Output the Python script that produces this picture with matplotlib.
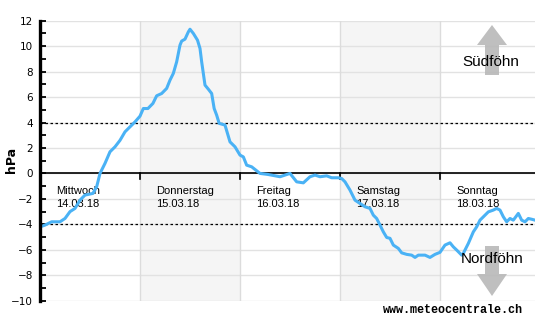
import matplotlib
matplotlib.use("Agg")
import matplotlib.pyplot as plt
from matplotlib.patches import Polygon
from matplotlib.ticker import MultipleLocator

# ---- data (hours since Wed 14.03.18 00:00, pressure difference hPa) ----
hours = [0, 1.2, 2.8, 4.8, 6, 7.2, 8.4, 9.6, 10.8, 12.7, 13.6, 14.4, 15.6, 16.8, 18,
         19.2, 20.4, 21.6, 22.8, 24, 24.8, 25.9, 27.1, 28, 29.2, 30.4, 31.2, 32, 32.8,
         33.6, 34, 34.8, 35.6, 36, 36.8, 37.8, 38.4, 38.8, 39.6, 40.4, 41.2, 41.8, 42.4,
         43, 44.4, 45.6, 46.8, 48, 48.8, 49.6, 50.8, 52.8, 54.7, 57.6, 60, 61.6, 63.2,
         64.8, 66, 67.2, 68.8, 70, 71.6, 72.4, 73.2, 74.4, 75.6, 76.8, 78, 79.2, 80,
         80.8, 81.6, 82.4, 83.2, 84, 84.8, 86, 86.8, 88, 89.2, 90, 90.8, 92.4, 93.6,
         94.8, 96, 97.2, 98.4, 99.2, 100, 101.2, 101.6, 102.8, 104, 104.8, 105.6, 106.4,
         107.6, 108.8, 109.6, 110.4, 111.2, 112, 112.8, 113.6, 114.8, 115.6, 116.4,
         117.2, 118, 118.8]
values = [-4.2, -4.06, -3.8, -3.8, -3.54, -3.0, -2.75, -2.1, -1.7, -1.57, -1.05, 0.0,
          0.79, 1.7, 2.09, 2.6, 3.27, 3.66, 4.05, 4.5, 5.1, 5.1, 5.5, 6.1, 6.28, 6.68,
          7.33, 7.86, 8.77, 10.08, 10.4, 10.55, 11.12, 11.33, 11.0, 10.47, 9.82, 8.77,
          6.94, 6.62, 6.28, 5.1, 4.58, 3.93, 3.8, 2.48, 2.09, 1.44, 1.3, 0.65, 0.52, 0.0,
          -0.08, -0.26, 0.0, -0.66, -0.74, -0.26, -0.13, -0.26, -0.19, -0.34, -0.34,
          -0.4, -0.66, -1.31, -2.1, -2.36, -2.62, -2.75, -3.28, -3.54, -4.06, -4.59,
          -5.03, -5.1, -5.63, -5.89, -6.24, -6.36, -6.42, -6.6, -6.42, -6.42, -6.6,
          -6.36, -6.2, -5.63, -5.45, -5.77, -6.02, -6.42, -6.28, -5.5, -4.59, -4.2,
          -3.67, -3.41, -3.02, -2.88, -2.75, -2.88, -3.41, -3.8, -3.54, -3.67, -3.14,
          -3.67, -3.8, -3.54, -3.6, -3.67]

day_names = ["Mittwoch", "Donnerstag", "Freitag", "Samstag", "Sonntag"]
day_dates = ["14.03.18", "15.03.18", "16.03.18", "17.03.18", "18.03.18"]
day_starts = [0, 24, 48, 72, 96]
shaded_days = [1, 3]
threshold = 4
x_end = 118.8
y_min, y_max = -10, 12

W, H = 554, 320
fig = plt.figure(figsize=(W / 100, H / 100), dpi=100)
ax = fig.add_axes([40 / W, 1 - 300.7 / H, (535 - 40) / W, (300.7 - 20.7) / H])

ax.set_xlim(0, x_end)
ax.set_ylim(y_min, y_max)

# shaded days
for i in shaded_days:
    ax.axvspan(day_starts[i], day_starts[i] + 24, color="#f5f5f5", zorder=0, lw=0)
# grid
for y in range(y_min, y_max + 1, 2):
    ax.axhline(y, color="#e2e2e2", lw=1, zorder=1)
for d in day_starts[1:]:
    ax.axvline(d, color="#dcdcdc", lw=1, zorder=1)

# thresholds
ax.axhline(threshold, color="black", lw=0.9, ls=(0, (2, 2)), zorder=2)
ax.axhline(-threshold, color="black", lw=0.9, ls=(0, (2, 2)), zorder=2)
# zero line
ax.axhline(0, color="black", lw=1.2, zorder=2)
for d in day_starts[1:]:
    ax.plot([d, d], [0, -0.4], color="black", lw=1.2, zorder=2)

# day labels
for d, n, t in zip(day_starts, day_names, day_dates):
    ax.text(d + 16 * 0.24, -1.35, n, fontsize=8, family="Liberation Sans",
            ha="left", va="center", zorder=4)
    ax.text(d + 16 * 0.24, -2.4, t, fontsize=8, family="Liberation Sans",
            ha="left", va="center", zorder=4)

# data line
ax.plot(hours, values, color="#4ab2f5", lw=2.2, zorder=5, solid_joinstyle="round")

# axes styling
for s in ["top", "right", "bottom"]:
    ax.spines[s].set_visible(False)
ax.spines["left"].set_linewidth(2.4)
ax.spines["left"].set_zorder(6)
ax.set_xticks([])
ax.yaxis.set_major_locator(MultipleLocator(2))
ax.yaxis.set_minor_locator(MultipleLocator(1))
ax.tick_params(axis="y", which="both", direction="in", length=4, width=1.3,
               labelsize=7.5, pad=5)
fig.text(12 / W, 1 - 160 / H, "hPa", fontsize=9, fontweight="bold",
         rotation=90, ha="center", va="center")

# foehn arrows (decoration, pixel coordinates)
def px(pts):
    return [(x / W, 1 - y / H) for x, y in pts]

up = [(485, 75), (485, 45), (477, 45), (492, 25), (507, 45), (499, 45), (499, 75)]
down = [(485, 246), (485, 274), (477, 274), (492, 296), (507, 274), (499, 274), (499, 246)]
for p in (up, down):
    fig.patches.append(Polygon(px(p), closed=True, transform=fig.transFigure,
                               facecolor="#b8b8b8", edgecolor="none", alpha=0.9, zorder=3))
fig.text(491 / W, 1 - 62 / H, "Südföhn", fontsize=11, family="Liberation Sans",
         ha="center", va="center", zorder=7)
fig.text(492 / W, 1 - 259 / H, "Nordföhn", fontsize=11, family="Liberation Sans",
         ha="center", va="center", zorder=7)

fig.text(523 / W, 1 - 310 / H, "www.meteocentrale.ch", fontsize=8.5,
         family="Liberation Mono", fontweight="bold", ha="right", va="center")

fig.savefig("out.png", dpi=100)
